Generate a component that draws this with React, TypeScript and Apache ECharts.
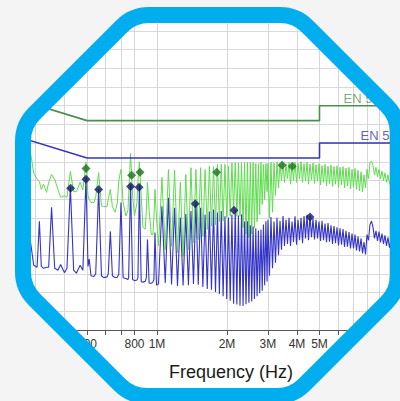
import React, { useEffect, useRef } from 'react';
import * as echarts from 'echarts';

// ---------- data (frequency in MHz, level in dBµV) ----------
const sweepMHz = [
  0.25, 0.265, 0.28, 0.295, 0.305, 0.312, 0.318, 0.325, 0.335, 0.342,
  0.352, 0.363, 0.375, 0.385, 0.40, 0.41, 0.424, 0.438, 0.45, 0.467,
  0.48, 0.495, 0.505, 0.511, 0.52, 0.535, 0.545, 0.561, 0.577, 0.59,
  0.61, 0.617, 0.63, 0.643, 0.66, 0.675, 0.685, 0.70, 0.715, 0.735,
  0.75, 0.755, 0.77, 0.785, 0.80, 0.82, 0.828, 0.84, 0.855, 0.87,
  0.89, 0.90, 0.91, 0.925, 0.945, 0.96, 0.97, 0.98, 0.995,
  1.015, 1.05, 1.085, 1.12, 1.155, 1.19, 1.225, 1.26, 1.295, 1.33,
  1.365, 1.40, 1.435, 1.47, 1.505, 1.54, 1.575, 1.61, 1.645, 1.68,
  1.715, 1.75, 1.785, 1.82, 1.855, 1.89, 1.925, 1.96, 1.995, 2.03,
  2.065, 2.10, 2.135, 2.17, 2.205, 2.24, 2.275, 2.31, 2.345, 2.38,
  2.415, 2.45, 2.485, 2.52, 2.555, 2.59, 2.625, 2.66, 2.695, 2.73,
  2.765, 2.80, 2.835, 2.87, 2.905, 2.94, 2.975,
  3.000, 3.046, 3.092, 3.139, 3.186, 3.234, 3.282, 3.331, 3.381, 3.432,
  3.483, 3.535, 3.588, 3.642, 3.697, 3.752, 3.808, 3.865, 3.923, 3.982,
  4.042, 4.102, 4.164, 4.226, 4.289, 4.353, 4.418, 4.484, 4.550, 4.619,
  4.688, 4.758, 4.830, 4.902, 4.975, 5.050, 5.125, 5.202, 5.280, 5.359,
  5.439, 5.520, 5.603, 5.687, 5.772, 5.858, 5.946, 6.035, 6.124, 6.216,
  6.310, 6.404, 6.500, 6.597, 6.697, 6.797, 6.899, 7.002, 7.107, 7.213,
  7.321, 7.431, 7.542, 7.655, 7.769, 7.885, 8.003, 8.123, 8.243, 8.367,
  8.492, 8.619, 8.748, 8.879, 9.012, 9.147, 9.284, 9.423, 9.563, 9.706,
  9.851, 9.999, 10.15, 10.30, 10.46, 10.61, 10.77, 10.93, 11.10,
];

// peak detector trace (green)
const peakLevels = [
  44, 45, 51, 42, 40.3, 39.7, 37.6, 39, 36.8, 39.5,
  41.6, 40.3, 37.6, 35.5, 35.9, 35.5, 42.4, 37, 37, 39.5,
  37.5, 44.9, 36, 34.9, 34.1, 34.1, 35.5, 42.1, 33.2, 33,
  33, 35, 37.6, 33, 31.5, 34, 40, 43, 34, 30.5,
  32, 36, 47.2, 36, 30.5, 34, 40, 45, 36, 27.5,
  27, 32, 39.5, 32, 25.5, 25.5, 30, 37.6, 30,
  22.5, 40.8, 21.5, 42.9, 22.4, 42.8, 20.7, 39.5, 19.7, 41.6,
  21.5, 43.4, 23.4, 42.9, 24.2, 43.4, 25.1, 42.9, 26.9, 43.8,
  27.8, 43.7, 28.2, 44.3, 29.0, 44.3, 29.1, 44.3, 30.1, 43.8,
  30.4, 44.7, 31.4, 44.7, 30.4, 44.7, 30.4, 44.7, 27.4, 44.7,
  25.6, 44.8, 24.7, 44.8, 25.6, 44.8, 27.4, 44.5, 29.0, 44.5,
  30.9, 44.8, 33.6, 44.3, 34.9, 44.5, 37.0,
  44.6, 30, 44.8, 31.5, 44.6, 36, 44.9, 38, 44.4, 40,
  44.9, 39.5, 44.5, 40.5, 44.8, 39, 44.3, 40, 44.9, 39.5,
  44.6, 40.5, 45.0, 39.5, 44.5, 40, 44.8, 39, 44.4, 40.2,
  44.7, 39.2, 44.2, 39.8, 44.5, 38.8, 44.0, 39.5, 44.3, 38.6,
  43.8, 39.2, 44.1, 38.4, 43.7, 39, 43.9, 38.2, 43.5, 38.8,
  43.7, 38.0, 43.3, 38.5, 43.5, 37.8, 43.0, 38.2, 43.2, 37.6,
  42.7, 37.2, 42.3, 37.0, 41.5, 38.0, 43.0, 40.5, 44.8, 45.2,
  44, 41.5, 43.5, 41, 43, 40.5, 42.5, 40, 42, 39.5,
  41.5, 39, 41, 38.5, 40.6, 38.2, 40.3, 37.8, 40,
];

// average detector trace (blue)
const averageLevels = [
  16, 17, 27.5, 17.3, 16.8, 29.1, 17, 16.5, 16.8, 16.8,
  32.8, 16.5, 16, 17.5, 15.3, 16.5, 38.3, 16, 15.2, 17.3,
  16, 40.8, 17, 19, 14.5, 14.3, 15, 37.8, 14.5, 14,
  14.2, 15, 26.4, 14.5, 14, 14.1, 15, 34.1, 14, 13.8,
  13.5, 14, 38.9, 13.5, 13.2, 13.4, 14, 38.9, 13, 12.8,
  13, 14, 24.2, 12.5, 12.5, 12.8, 13.5, 26.1, 12,
  12.3, 33.1, 12.6, 35.4, 12.2, 32.7, 11.8, 30.1, 11.9, 31.0,
  12.0, 31.8, 12.3, 34.0, 12.1, 32.7, 11.5, 30.9, 11.0, 31.7,
  10.8, 32.2, 10.2, 31.4, 9.6, 31.8, 9.0, 30.4, 8.3, 30.1,
  7.8, 30.9, 7.0, 32.1, 6.8, 30.6, 6.5, 30.9, 6.4, 29.0,
  6.9, 29.1, 7.3, 28.0, 7.6, 27.7, 8.3, 27.2, 9.0, 26.6,
  9.8, 26.9, 10.5, 28.2, 12.0, 29.1, 13.0,
  29.5, 14.5, 30.2, 16.5, 29.0, 18, 30.0, 20, 29.2, 21.5,
  30.5, 22.5, 29.5, 23, 30.0, 22.5, 29.0, 23.5, 30.4, 22.8,
  29.5, 24, 30.0, 23.2, 30.5, 24.5, 30.8, 24, 30.6, 24.8,
  29.8, 24.2, 29.5, 24.5, 29.0, 23.8, 29.2, 24, 28.5, 23.5,
  28.6, 23.6, 28.0, 23.0, 27.8, 23.2, 27.5, 22.6, 27.2, 22.8,
  27.0, 22.2, 26.5, 22.3, 26.2, 21.8, 25.8, 21.8, 25.5, 21.3,
  25.0, 21, 24.5, 20.5, 23.5, 20.2, 25.5, 24, 28.2, 29.1,
  27.5, 24.5, 26.5, 23.8, 26.3, 23.4, 25.8, 23, 25.3, 22.5,
  24.8, 22, 24.3, 21.5, 23.9, 21, 23.5, 20.6, 23.2,
];

// limits
const limitMHz = [0.15, 0.5, 5, 5, 30];
const qpLimit = [66, 56, 56, 60, 60];
const avLimit = [56, 46, 46, 50, 50];
const limitNames = ['EN 55022 QP', 'EN 55022 AV'];

// detected markers
const qpMarkers = [
  [0.495, 43.2], [0.778, 41.4], [0.845, 42.2], [1.806, 42.2], [3.449, 44.1], [3.819, 43.8],
];
const avMarkers = [
  [0.425, 37.9], [0.495, 40.3], [0.561, 37.6], [0.770, 38.4], [0.837, 38.2],
  [1.461, 33.8], [2.144, 32.0], [4.55, 30.2],
];

// axis ticks (MHz)
const tickMHz = [0.3, 0.4, 0.5, 0.6, 0.7, 0.8, 1, 2, 3, 4, 5, 6, 7, 8, 9, 10];
const labelMHz = [0.5, 0.8, 1, 2, 3, 4, 5];

// ---------- frame geometry ----------
const OCT: number[][] = [
  [133, 15], [296, 15], [398, 117], [398, 291], [293, 396], [131, 396], [23, 288], [23, 125],
];
function roundedPath(pts: number[][], d: number): string {
  let s = '';
  const n = pts.length;
  for (let i = 0; i < n; i++) {
    const p = pts[(i - 1 + n) % n], v = pts[i], q = pts[(i + 1) % n];
    const l1 = Math.hypot(p[0] - v[0], p[1] - v[1]);
    const l2 = Math.hypot(q[0] - v[0], q[1] - v[1]);
    const a = [v[0] + ((p[0] - v[0]) * d) / l1, v[1] + ((p[1] - v[1]) * d) / l1];
    const b = [v[0] + ((q[0] - v[0]) * d) / l2, v[1] + ((q[1] - v[1]) * d) / l2];
    s += (i === 0 ? 'M' : 'L') + a[0].toFixed(2) + ' ' + a[1].toFixed(2) +
      ' Q' + v[0] + ' ' + v[1] + ' ' + b[0].toFixed(2) + ' ' + b[1].toFixed(2) + ' ';
  }
  return s + 'Z';
}
const framePath = roundedPath(OCT, 16);
const maskPath = 'M-20 -20 L420 -20 L420 421 L-20 421 Z ' + roundedPath([...OCT].reverse(), 16);
echarts.graphic.registerShape('octFrame', echarts.graphic.extendPath(framePath, {}));
echarts.graphic.registerShape('octMask', echarts.graphic.extendPath(maskPath, {}));

const lg = (mhz: number) => Math.log10(mhz * 1e6);
const X_MIN = 6 - 157 / 232.5;
const X_MAX = 6 + 243 / 232.5;
const FONT = 'Liberation Sans, Arial, sans-serif';

function fmtFreq(v: number): string {
  const f = Math.pow(10, v);
  if (f >= 999000) return Math.round(f / 1e6) + 'M';
  return String(Math.round(f / 1e3));
}

export default function App() {
  const ref = useRef<HTMLDivElement>(null);
  useEffect(() => {
    const chart = echarts.init(ref.current!, null, { renderer: 'svg' });
    const option: any = {
      animation: false,
      backgroundColor: '#ffffff',
      textStyle: { fontFamily: FONT },
      grid: { left: 0, right: 0, top: 1, bottom: 71 },
      xAxis: {
        type: 'value',
        min: X_MIN,
        max: X_MAX,
        axisLine: { show: true, lineStyle: { color: '#555', width: 1 } },
        axisTick: { show: true, length: 5, customValues: tickMHz.map(lg), lineStyle: { color: '#555' } },
        axisLabel: {
          show: true, customValues: labelMHz.map(lg), formatter: (v: number) => fmtFreq(v),
          fontSize: 12, color: '#333', margin: 8, fontFamily: FONT,
        },
        splitLine: { show: true, lineStyle: { color: '#d6d6d6', width: 1 } },
      },
      yAxis: {
        type: 'value',
        min: 0,
        max: 88,
        interval: 5,
        axisLine: { show: false },
        axisTick: { show: false },
        axisLabel: { show: false },
        splitLine: { show: true, lineStyle: { color: '#d9d9d9', width: 1 } },
      },
      series: [
        {
          type: 'line', name: 'Peak', silent: true, symbol: 'none',
          data: sweepMHz.map((f, i) => [lg(f), peakLevels[i]]),
          lineStyle: { color: '#5edc4e', width: 1 }, z: 2,
        },
        {
          type: 'line', name: 'Average', silent: true, symbol: 'none',
          data: sweepMHz.map((f, i) => [lg(f), averageLevels[i]]),
          lineStyle: { color: '#3434c8', width: 1.1 }, z: 3,
        },
        {
          type: 'line', name: limitNames[0], silent: true, symbol: 'none',
          data: limitMHz.map((f, i) => [lg(f), qpLimit[i]]),
          lineStyle: { color: '#4a8f4a', width: 1.6 }, z: 4,
        },
        {
          type: 'line', name: limitNames[1], silent: true, symbol: 'none',
          data: limitMHz.map((f, i) => [lg(f), avLimit[i]]),
          lineStyle: { color: '#3636b5', width: 1.6 }, z: 4,
        },
        {
          type: 'scatter', name: 'QP markers', silent: true, symbol: 'diamond', symbolSize: 9,
          data: qpMarkers.map((m) => [lg(m[0]), m[1]]),
          itemStyle: { color: '#1e6e1e' }, z: 5,
        },
        {
          type: 'scatter', name: 'AV markers', silent: true, symbol: 'diamond', symbolSize: 9,
          data: avMarkers.map((m) => [lg(m[0]), m[1]]),
          itemStyle: { color: '#111866' }, z: 5,
        },
        {
          type: 'scatter', silent: true, symbolSize: 1,
          itemStyle: { color: 'transparent' },
          data: [
            { value: [lg(6.31), 61.8], label: { formatter: limitNames[0], color: '#5f8f5f', width: 55 } },
            { value: [lg(7.47), 52.0], label: { formatter: limitNames[1], color: '#3636b0', width: 39 } },
          ],
          label: {
            show: true, position: 'right', distance: 0, fontSize: 13, fontFamily: FONT,
            overflow: 'truncate', ellipsis: '',
          },
          z: 6,
        },
      ],
      graphic: [
        { type: 'octMask', z: 100, silent: true, style: { fill: '#f4f4f4', stroke: 'none' } },
        { type: 'octFrame', z: 101, silent: true, style: { fill: 'none', stroke: '#00aeef', lineWidth: 16 } },
        {
          type: 'text', z: 102, silent: true, x: 231, y: 372,
          style: {
            text: 'Frequency (Hz)', fontSize: 18, fontFamily: FONT, fill: '#1a1a1a',
            align: 'center', verticalAlign: 'middle', textAlign: 'center', textVerticalAlign: 'middle',
          },
        },
      ],
    };
    chart.setOption(option);
    return () => chart.dispose();
  }, []);
  return (
    <div
      ref={ref}
      style={{ position: 'fixed', left: 0, top: 0, width: 400, height: 401, background: '#fff' }}
    />
  );
}
